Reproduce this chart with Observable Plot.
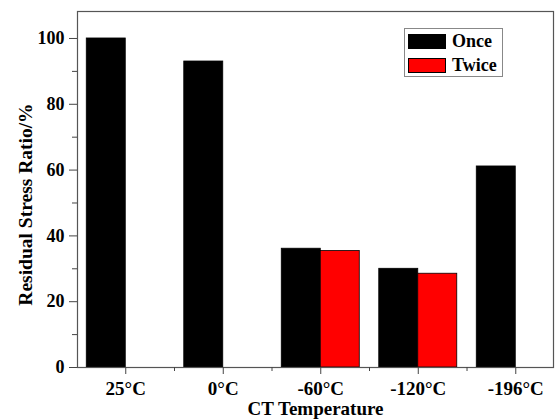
<!DOCTYPE html>
<html>
<head>
<meta charset="utf-8">
<script src="https://cdn.jsdelivr.net/npm/d3@7"></script>
<script src="https://cdn.jsdelivr.net/npm/@observablehq/plot@0.6"></script>
<style>
  html, body { margin: 0; padding: 0; background: #fff; }
  #wrap { position: relative; width: 555px; height: 419px; }
  .row { position: absolute; left: 3px; display: flex; align-items: center; }
  .sw { width: 38px; height: 15px; border: 1px solid #000; box-sizing: border-box; margin-right: 6px; }
</style>
</head>
<body style="font-family:'Liberation Serif';font-weight:bold">
<div id="wrap" style="font-family:'Liberation Serif';font-weight:bold"></div>
<script>
const categories = ["25°C", "0°C", "-60°C", "-120°C", "-196°C"];
const seriesNames = ["Once", "Twice"];
const onceValues = [100, 93, 36.1, 30.0, 61.1];
const twiceValues = [null, null, 35.4, 28.5, null];
const colors = ["#000000", "#ff0000"];
const yMajorTicks = [0, 20, 40, 60, 80, 100];
const yMinorTicks = [10, 30, 50, 70, 90];

const barWidth = 0.4;
const rows = [];
categories.forEach((c, i) => {
  if (onceValues[i] != null) rows.push({pos: i + 1, series: "Once", value: onceValues[i], x1: i + 1 - barWidth, x2: i + 1});
  if (twiceValues[i] != null) rows.push({pos: i + 1, series: "Twice", value: twiceValues[i], x1: i + 1, x2: i + 1 + barWidth});
});

const font = "Liberation Serif";
const catIdx = categories.map((c, i) => i + 1);
const minorX = categories.slice(0, -1).map((c, i) => i + 1.5);

const chart = Plot.plot({
  width: 555,
  height: 419,
  marginLeft: 77,
  marginRight: 2,
  marginTop: 11,
  marginBottom: 52,
  style: "font-family:'Liberation Serif';font-weight:bold;font-size:18px;color:#000;background:#fff",
  x: {type: "linear", domain: [0.505, 5.387]},
  y: {domain: [0, 108.2]},
  color: {domain: seriesNames, range: colors},
  marks: [
    Plot.rectY(rows, {x1: "x1", x2: "x2", y: "value", fill: "series", stroke: "#000", strokeWidth: 0.8}),
    Plot.frame({stroke: "#555", strokeWidth: 1.2}),
    Plot.axisY({ticks: yMajorTicks, tickSize: 8, tickPadding: 5, fontSize: 18, fontWeight: "bold", fontFamily: font, label: null, stroke: "#444"}),
    Plot.axisY({ticks: yMinorTicks, tickSize: 5, text: null, label: null, stroke: "#444"}),
    Plot.axisX({ticks: catIdx, tickSize: 7, tickPadding: 7, tickFormat: d => categories[d - 1], fontSize: 19, fontWeight: "bold", fontFamily: font, label: null, stroke: "#444"}),
    Plot.axisX({ticks: minorX, tickSize: 4, text: null, label: null, stroke: "#444"}),
    Plot.text(["CT Temperature"], {frameAnchor: "bottom", lineAnchor: "middle", dy: 41, fontSize: 19, fontWeight: "bold", fontFamily: font, fill: "#000"}),
    Plot.text(["Residual Stress Ratio/%"], {frameAnchor: "left", textAnchor: "middle", lineAnchor: "middle", dx: -52, dy: 15, rotate: -90, fontSize: 19.5, fontWeight: "bold", fontFamily: font, fill: "#000"})
  ]
});

const wrap = document.getElementById("wrap");
wrap.appendChild(chart);

const legend = document.createElement("div");
legend.setAttribute("style", "position:absolute;left:404px;top:28px;width:97px;height:47px;border:1px solid #888;background:#fff;font-family:'Liberation Serif';font-weight:bold;font-size:18px");
seriesNames.forEach((name, i) => {
  const row = document.createElement("div");
  row.className = "row";
  row.style.top = (i === 0 ? 2 : 26) + "px";
  const sw = document.createElement("div");
  sw.className = "sw";
  sw.style.background = colors[i];
  const label = document.createElement("span");
  label.textContent = name;
  row.appendChild(sw);
  row.appendChild(label);
  legend.appendChild(row);
});
wrap.appendChild(legend);
</script>
</body>
</html>
